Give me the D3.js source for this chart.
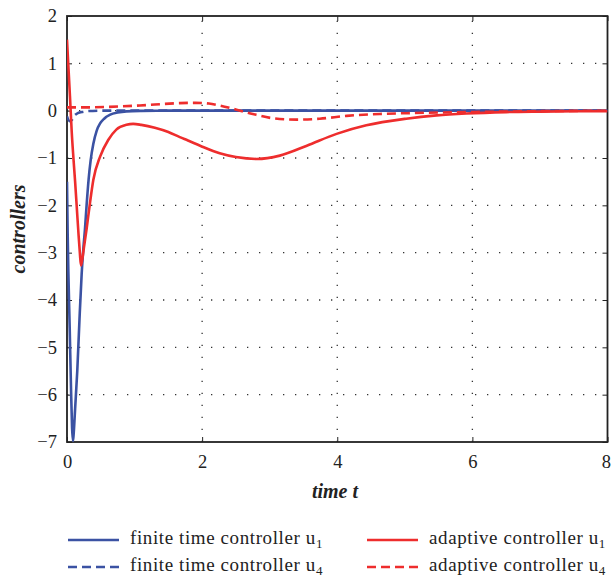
<!DOCTYPE html>
<html><head><meta charset="utf-8">
<script src="https://cdn.jsdelivr.net/npm/d3@7"></script>
<style>body{margin:0;background:#fff}svg{display:block}</style>
</head><body>
<svg id="chart" width="611" height="584"></svg>
<script>
// ---- data ----
const xTicks = [0, 2, 4, 6, 8];
const yTicks = [2, 1, 0, -1, -2, -3, -4, -5, -6, -7];

const finiteU1T = [0, 0.01, 0.02, 0.04, 0.06, 0.075, 0.088, 0.1, 0.12, 0.152, 0.185, 0.217, 0.24, 0.266, 0.29, 0.32, 0.35, 0.39, 0.44, 0.49, 0.55, 0.64, 0.75, 0.88, 1.1, 1.5, 2, 3, 4, 5, 6, 7, 8];
const finiteU1 = [-1.5, -2.6, -3.4, -4.6, -5.9, -6.7, -6.98, -6.8, -6.3, -5.5, -4.4, -3.45, -2.95, -2.5, -2.0, -1.45, -1.05, -0.7, -0.42, -0.27, -0.17, -0.085, -0.04, -0.015, -0.005, 0, 0, 0, 0, 0, 0, 0, 0];

const finiteU4T = [0, 0.04, 0.07, 0.1, 0.15, 0.22, 0.3, 0.5, 1, 2, 4, 6, 8];
const finiteU4 = [-0.12, -0.22, -0.2, -0.12, -0.06, -0.03, -0.01, 0, 0, 0, 0, 0, 0];

const adaptiveU1T = [0, 0.02, 0.044, 0.07, 0.095, 0.12, 0.145, 0.17, 0.19, 0.207, 0.225, 0.25, 0.29, 0.34, 0.39, 0.49, 0.61, 0.73, 0.88, 0.98, 1.1, 1.3, 1.5, 1.67, 1.79, 1.97, 2.26, 2.5, 2.81, 3.15, 3.55, 3.99, 4.43, 5.02, 5.47, 5.91, 6.5, 7, 8];
const adaptiveU1 = [1.5, 0.95, 0.3, -0.45, -1.0, -1.5, -2.05, -2.6, -3.0, -3.27, -3.15, -2.9, -2.5, -1.95, -1.46, -0.97, -0.62, -0.4, -0.3, -0.28, -0.3, -0.36, -0.45, -0.56, -0.63, -0.74, -0.9, -0.98, -1.02, -0.95, -0.74, -0.49, -0.31, -0.17, -0.1, -0.06, -0.03, -0.02, -0.01];

const adaptiveU4T = [0, 0.3, 0.6, 1.08, 1.3, 1.67, 1.9, 2.1, 2.26, 2.51, 2.75, 3.05, 3.4, 3.74, 4.14, 4.63, 5.12, 5.91, 7, 8];
const adaptiveU4 = [0.07, 0.07, 0.08, 0.11, 0.13, 0.16, 0.165, 0.15, 0.11, 0.02, -0.07, -0.16, -0.19, -0.17, -0.11, -0.07, -0.05, -0.03, -0.01, 0];

const seriesNames = ["finite time controller u", "finite time controller u", "adaptive controller u", "adaptive controller u"];
const seriesSubs = ["1", "4", "1", "4"];

// ---- drawing ----
const BLUE = "#3b52a3", RED = "#ee2d2d";
const FONT = "Liberation Serif";
const svg = d3.select("#chart");
const L = 67, R = 607.5, T = 16, B = 442;
const x = d3.scaleLinear().domain([0, 8]).range([L, R]);
const y = d3.scaleLinear().domain([-7, 2]).range([B, T]);

svg.append("defs").append("clipPath").attr("id", "clip")
  .append("rect").attr("x", L).attr("y", T).attr("width", R - L).attr("height", B - T);

// grid
const grid = svg.append("g").attr("stroke", "#333").attr("stroke-width", 1.3)
  .attr("stroke-dasharray", "1.3,10.7");
xTicks.slice(1, -1).forEach(v => grid.append("line")
  .attr("x1", x(v)).attr("x2", x(v)).attr("y1", B).attr("y2", T));
yTicks.slice(1, -1).forEach(v => grid.append("line")
  .attr("x1", L).attr("x2", R).attr("y1", y(v)).attr("y2", y(v)));

// axes with inward ticks
const axB = svg.append("g").attr("transform", `translate(0,${B})`)
  .call(d3.axisBottom(x).tickValues(xTicks).tickSizeInner(-5).tickSizeOuter(0).tickPadding(13));
const axL = svg.append("g").attr("transform", `translate(${L},0)`)
  .call(d3.axisLeft(y).tickValues(yTicks).tickSizeInner(-5).tickSizeOuter(0).tickPadding(10)
    .tickFormat(d => d < 0 ? "\u2212" + Math.abs(d) : d));
const axT = svg.append("g").attr("transform", `translate(0,${T})`)
  .call(d3.axisTop(x).tickValues(xTicks).tickSizeInner(-5).tickSizeOuter(0).tickFormat(""));
const axR = svg.append("g").attr("transform", `translate(${R},0)`)
  .call(d3.axisRight(y).tickValues(yTicks).tickSizeInner(-5).tickSizeOuter(0).tickFormat(""));
[axB, axL, axT, axR].forEach(a => {
  a.attr("font-family", FONT).attr("font-size", 18.5);
  a.select(".domain").remove();
  a.selectAll(".tick line").attr("stroke", "#222").attr("stroke-width", 1);
  a.selectAll("text").attr("font-family", FONT).attr("font-size", 18.5).attr("fill", "#222");
});
axB.selectAll("text").attr("dy", "0.71em");
// keep the last x label inside the page
axB.selectAll(".tick").filter(d => d === 8).select("text").attr("text-anchor", "end").attr("x", 3);
svg.append("rect").attr("x", L).attr("y", T).attr("width", R - L).attr("height", B - T)
  .attr("fill", "none").attr("stroke", "#222").attr("stroke-width", 1.8);

// curves
const line = d3.line().x(d => x(d[0])).y(d => y(d[1])).curve(d3.curveMonotoneX);
const curves = [
  {t: finiteU1T, v: finiteU1, c: BLUE, dash: null},
  {t: finiteU4T, v: finiteU4, c: BLUE, dash: "9,5"},
  {t: adaptiveU1T, v: adaptiveU1, c: RED, dash: null},
  {t: adaptiveU4T, v: adaptiveU4, c: RED, dash: "9,5"}
];
const plot = svg.append("g").attr("clip-path", "url(#clip)");
curves.forEach(s => {
  plot.append("path").datum(s.t.map((t, i) => [t, s.v[i]]))
    .attr("d", line).attr("fill", "none").attr("stroke", s.c)
    .attr("stroke-width", 2.6).attr("stroke-dasharray", s.dash)
    .attr("stroke-linejoin", "round");
});

// axis labels
svg.append("text").attr("x", 335).attr("y", 498).attr("text-anchor", "middle")
  .attr("font-family", FONT).attr("font-size", 20).attr("font-weight", "bold")
  .attr("font-style", "italic").attr("fill", "#222").text("time t");
svg.append("text").attr("transform", `translate(25,${(T + B) / 2}) rotate(-90)`)
  .attr("text-anchor", "middle").attr("font-family", FONT).attr("font-size", 20)
  .attr("font-weight", "bold").attr("font-style", "italic").attr("fill", "#222").text("controllers");

// legend
const legPos = [[68, 540], [68, 567], [367, 540], [367, 567]];
curves.forEach((s, i) => {
  const [lx, ly] = legPos[i];
  svg.append("line").attr("x1", lx).attr("x2", lx + 51).attr("y1", ly).attr("y2", ly)
    .attr("stroke", s.c).attr("stroke-width", 2.6).attr("stroke-dasharray", s.dash);
  const tx = svg.append("text").attr("x", lx + 62).attr("y", ly + 4)
    .attr("font-family", FONT).attr("font-size", 19).attr("letter-spacing", 0.6)
    .attr("fill", "#222");
  tx.append("tspan").text(seriesNames[i]);
  tx.append("tspan").attr("font-size", 13).attr("dy", 4).text(seriesSubs[i]);
});
</script>
</body></html>
